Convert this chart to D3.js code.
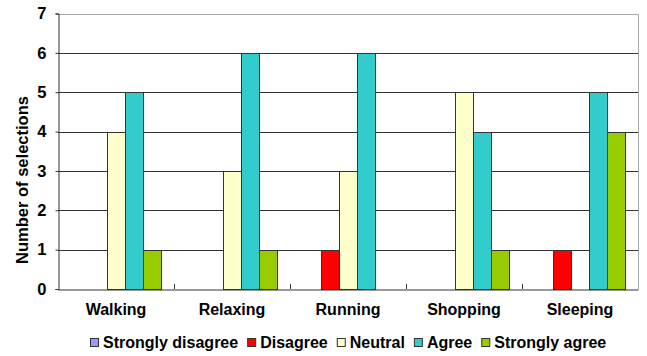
<!DOCTYPE html>
<html>
<head>
<meta charset="utf-8">
<script src="https://cdn.jsdelivr.net/npm/d3@7.9.0/dist/d3.min.js"></script>
<style>
  body { margin: 0; background: #fff; }
  svg { display: block; font-family: "Liberation Sans", Arial, sans-serif; font-weight: bold; }
</style>
</head>
<body>
<svg id="chart" width="647" height="356"></svg>
<script>
const activities = ["Walking", "Relaxing", "Running", "Shopping", "Sleeping"];
const responses = ["Strongly disagree", "Disagree", "Neutral", "Agree", "Strongly agree"];
const stronglyDisagree = [0, 0, 0, 0, 0];
const disagree = [0, 0, 1, 0, 1];
const neutral = [4, 3, 3, 5, 0];
const agree = [5, 6, 6, 4, 5];
const stronglyAgree = [1, 1, 0, 1, 4];
const yTicks = [0, 1, 2, 3, 4, 5, 6, 7];

const series = [stronglyDisagree, disagree, neutral, agree, stronglyAgree];
const colors = ["#9999FF", "#FF0000", "#FFFFCC", "#33CCCC", "#99CC00"];

const margin = { top: 13.5, right: 9, bottom: 67, left: 58 };
const width = 647, height = 356;
const svg = d3.select("#chart");

let x0 = d3.scaleBand().domain(activities).range([margin.left, width - margin.right]);
let x1 = d3.scaleBand().domain(responses).range([13, x0.bandwidth() - 13]);
let y = d3.scaleLinear().domain([0, 7]).range([height - margin.bottom, margin.top]);

// gridlines
svg.append("g")
  .selectAll("line")
  .data(yTicks.filter((d) => d > 0 && d < 7))
  .join("line")
  .attr("x1", margin.left)
  .attr("x2", width - margin.right)
  .attr("y1", (d) => Math.round(y(d)) + 0.5)
  .attr("y2", (d) => Math.round(y(d)) + 0.5)
  .attr("stroke", "#333");

// grey frame top & right
svg.append("path")
  .attr("d", `M${margin.left},${Math.round(y(7)) + 0.5}H${width - margin.right + 0.5}V${Math.round(y(0))}`)
  .attr("fill", "none")
  .attr("stroke", "#a8a8a8");

// bars
let rows = activities.map((a, i) => ({ activity: a, values: series.map((s) => s[i]) }));
svg.append("g")
  .selectAll("g")
  .data(rows)
  .join("g")
  .attr("transform", (d) => `translate(${x0(d.activity)},0)`)
  .selectAll("rect")
  .data((d) => d.values.map((v, j) => ({ key: responses[j], value: v, color: colors[j] })))
  .join("rect")
  .filter((d) => d.value > 0)
  .attr("x", (d) => Math.round(x1(d.key)) + 0.5)
  .attr("width", x1.bandwidth())
  .attr("y", (d) => Math.round(y(d.value)) + 0.5)
  .attr("height", (d) => Math.round(y(0)) - Math.round(y(d.value)))
  .attr("fill", (d) => d.color)
  .attr("stroke", "#333");

// y axis
let yAxis = svg.append("g")
  .attr("transform", `translate(${margin.left + 0.5},0)`)
  .call(d3.axisLeft(y).tickValues(yTicks).tickFormat(d3.format("d")).tickSize(3).tickPadding(9));
yAxis.select(".domain").attr("stroke", "#333");
yAxis.selectAll(".tick line").attr("stroke", "#333");
yAxis.selectAll("text")
  .attr("font-size", 16.5)
  .attr("font-weight", "bold")
  .attr("font-family", "Liberation Sans, Arial, sans-serif")
  .attr("fill", "#000");

// x axis
let xAxis = svg.append("g")
  .attr("transform", `translate(0,${Math.round(y(0)) + 0.5})`)
  .call(d3.axisBottom(x0).tickSize(0).tickPadding(14));
xAxis.select(".domain").attr("stroke", "#333");
xAxis.selectAll("text")
  .attr("font-size", 16)
  .attr("font-weight", "bold")
  .attr("font-family", "Liberation Sans, Arial, sans-serif")
  .attr("fill", "#000");

// category separator ticks (pointing up)
svg.append("g")
  .selectAll("line")
  .data(activities.slice(1))
  .join("line")
  .attr("x1", (d) => Math.round(x0(d)) + 0.5)
  .attr("x2", (d) => Math.round(x0(d)) + 0.5)
  .attr("y1", Math.round(y(0)))
  .attr("y2", Math.round(y(0)) - 5)
  .attr("stroke", "#333");

// y title
svg.append("text")
  .attr("transform", `translate(28,180) rotate(-90)`)
  .attr("text-anchor", "middle")
  .attr("font-size", 16.5)
  .text("Number of selections");

// legend
let legend = svg.append("g");
let cursor = 0;
responses.forEach((r, i) => {
  let item = legend.append("g").attr("transform", `translate(${cursor},0)`);
  item.append("rect")
    .attr("x", 0.5).attr("y", -9.5)
    .attr("width", 8).attr("height", 8)
    .attr("fill", colors[i])
    .attr("stroke", "#333");
  let t = item.append("text")
    .attr("x", 13)
    .attr("y", 0)
    .attr("font-size", 16)
    .text(r);
  cursor += 13 + t.node().getComputedTextLength() + 9;
});
cursor -= 9;
let plotCenter = (margin.left + width - margin.right) / 2;
legend.attr("transform", `translate(${Math.round(plotCenter - cursor / 2)},348)`);
</script>
</body>
</html>
